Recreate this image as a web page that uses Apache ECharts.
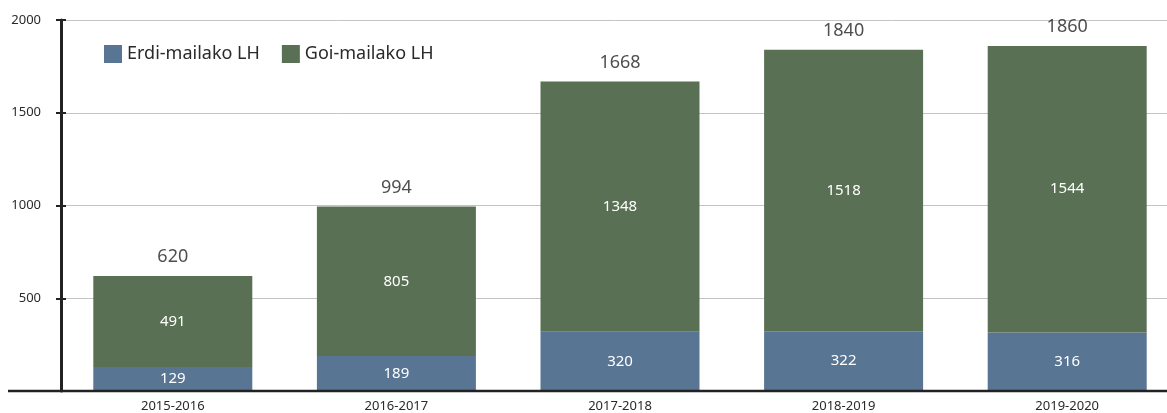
<!DOCTYPE html>
<html>
<head>
<meta charset="utf-8">
<script src="https://cdn.jsdelivr.net/npm/echarts@6/dist/echarts.min.js"></script>
<style>
  html, body { margin: 0; padding: 0; background: #fff; }
  #my-chart { width: 1167px; height: 413px; }
</style>
</head>
<body>
<div id="my-chart"></div>
<script>
const categories = ["2015-2016", "2016-2017", "2017-2018", "2018-2019", "2019-2020"];
const erdiValues = [129, 189, 320, 322, 316];
const goiValues = [491, 805, 1348, 1518, 1544];
const totals = [620, 994, 1668, 1840, 1860];
const yTicks = [0, 500, 1000, 1500, 2000];

const font = "'Noto Sans', sans-serif";
const myChart = echarts.init(document.getElementById("my-chart"));

const option = {
  animation: false,
  textStyle: { fontFamily: font },
  legend: {
    left: 104,
    top: 45,
    padding: 0,
    itemWidth: 18,
    itemHeight: 18,
    itemGap: 22,
    icon: "rect",
    textStyle: { color: "#2a2a2a", fontSize: 18, fontFamily: font },
    data: ["Erdi-mailako LH", "Goi-mailako LH"],
  },
  grid: {
    left: 61,
    right: -12,
    top: 20,
    bottom: 22,
    outerBoundsMode: "none",
  },
  graphic: [
    {
      // baseline extends left of the y axis
      type: "line",
      shape: { x1: 8, y1: 391, x2: 1167, y2: 391 },
      style: { stroke: "#222", lineWidth: 2.5 },
      z: 10,
    },
  ],
  xAxis: {
    type: "category",
    data: categories,
    axisLine: { show: false },
    axisTick: { show: false },
    axisLabel: { color: "#2a2a2a", fontSize: 13, margin: 9, fontFamily: font },
  },
  yAxis: [
    {
      type: "value",
      min: yTicks[0],
      max: yTicks[yTicks.length - 1],
      interval: 500,
      axisLine: { show: true, lineStyle: { color: "#222", width: 3 } },
      axisTick: { show: true, length: 5, lineStyle: { color: "#222", width: 2 } },
      axisLabel: {
        color: "#2a2a2a",
        fontSize: 13,
        margin: 20,
        fontFamily: font,
        formatter: (v) => (v === 0 ? "" : String(v)),
      },
      splitLine: { show: true, lineStyle: { color: "#c4c4c4", width: 1 } },
    },
    {
      type: "value",
      min: yTicks[0],
      max: yTicks[yTicks.length - 1],
      interval: 500,
      position: "left",
      axisLine: { show: false },
      axisTick: { show: true, inside: true, length: 5, lineStyle: { color: "#222", width: 2 } },
      axisLabel: { show: false },
      splitLine: { show: false },
    },
  ],
  series: [
    {
      name: "Erdi-mailako LH",
      type: "bar",
      stack: "total",
      barWidth: 159,
      data: erdiValues,
      itemStyle: { color: "#587593" },
      label: { show: true, position: "inside", color: "#fff", fontSize: 15, fontFamily: font },
    },
    {
      name: "Goi-mailako LH",
      type: "bar",
      stack: "total",
      barWidth: 159,
      data: goiValues,
      itemStyle: { color: "#5a7055" },
      label: { show: true, position: "inside", color: "#fff", fontSize: 15, fontFamily: font },
    },
    {
      name: "Guztira",
      type: "scatter",
      symbolSize: 0,
      data: totals,
      silent: true,
      label: {
        show: true,
        position: "top",
        distance: 10,
        color: "#222",
        fontSize: 18,
        fontFamily: font,
      },
      z: 5,
    },
  ],
};
myChart.setOption(option);
</script>
</body>
</html>
